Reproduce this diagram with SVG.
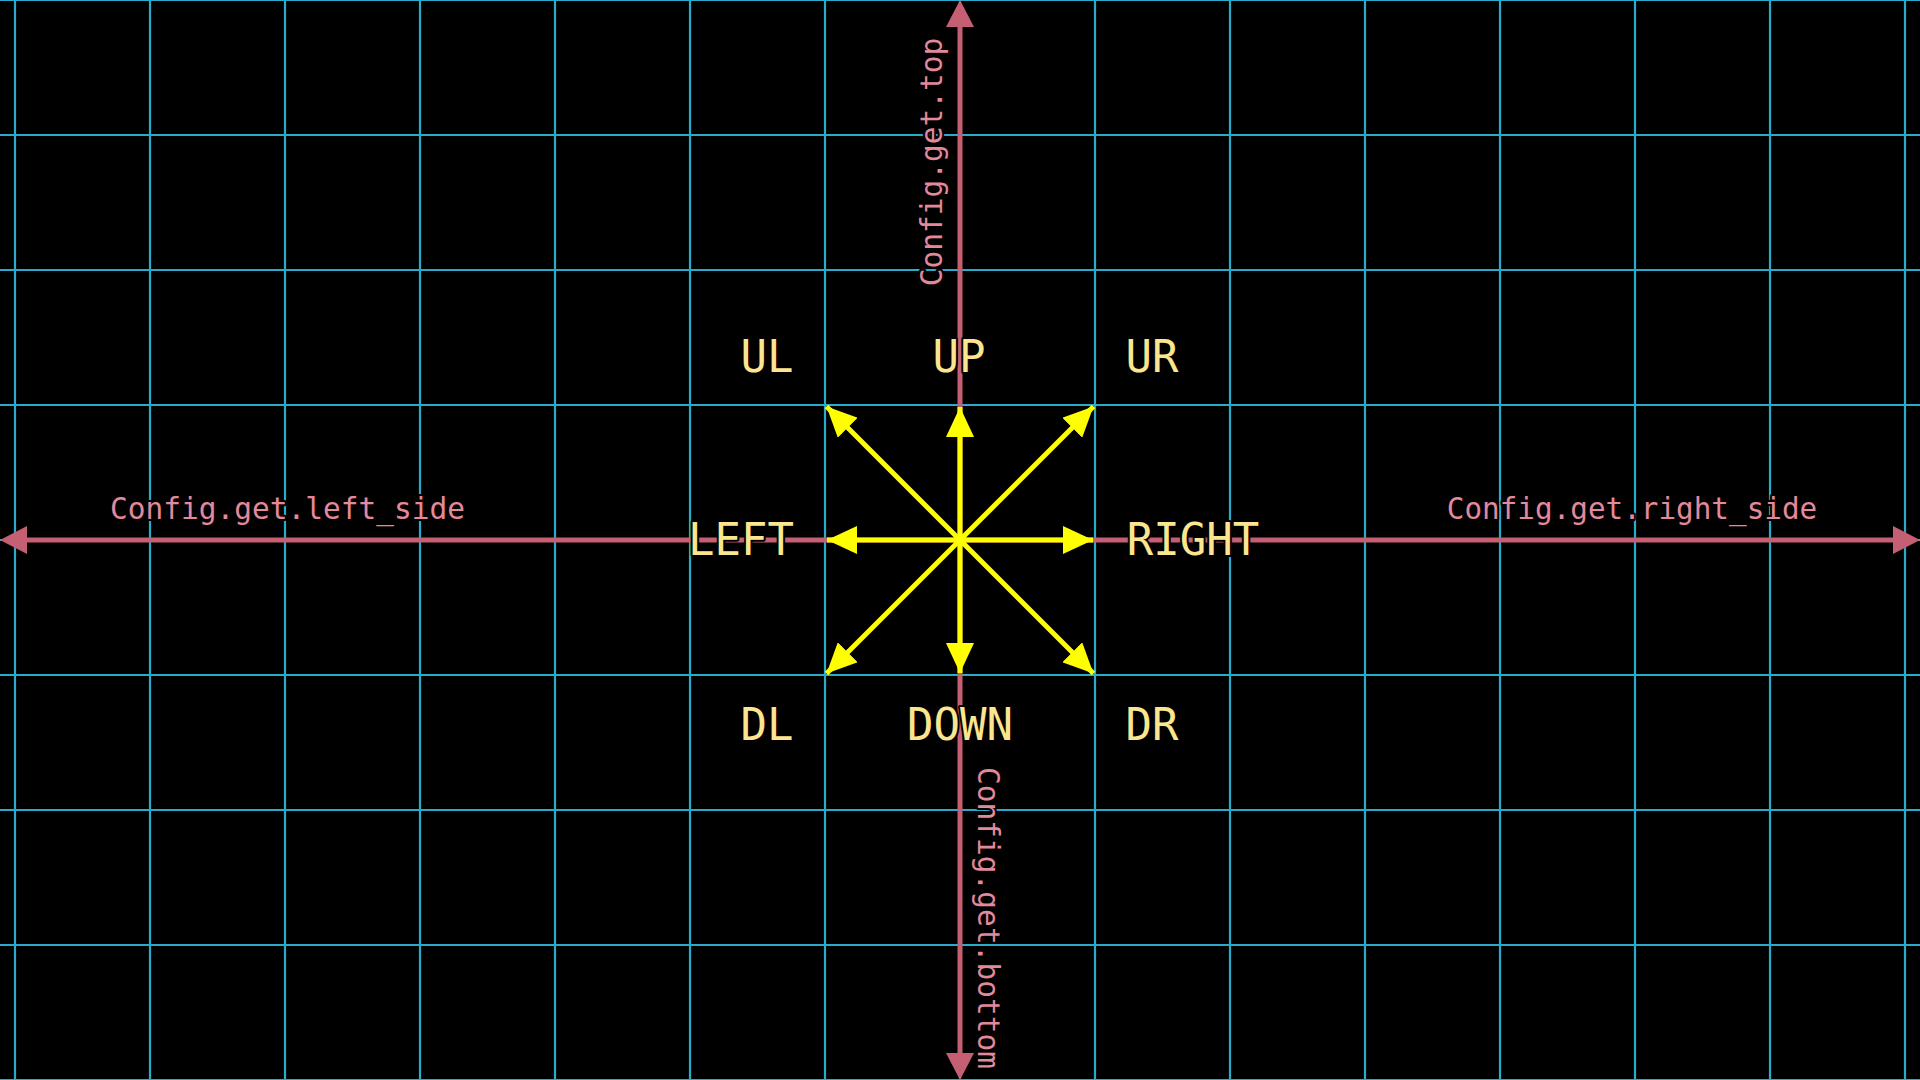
<svg xmlns="http://www.w3.org/2000/svg" width="1920" height="1080" viewBox="0 0 1920 1080">
<defs>
<style>
.grid line{stroke:#29ABCA;stroke-width:2.2}
.axis{stroke:#C55F73;stroke-width:5;fill:none}
.axhead{fill:#C55F73}
.dir{stroke:#FFFF00;stroke-width:5;fill:none}
.dirhead{fill:#FFFF00}
.lbl{font-family:"DejaVu Sans Mono","Liberation Mono",monospace;fill:#E2899C;stroke:#000;stroke-width:4;paint-order:stroke;stroke-linejoin:round}
.dlbl{font-family:"DejaVu Sans Mono","Liberation Mono",monospace;font-size:44px;fill:#FBE68F;stroke:#000;stroke-width:4;paint-order:stroke;stroke-linejoin:round;text-anchor:middle}
</style>
<marker id="ah" viewBox="0 0 30 28" refX="30" refY="14" markerWidth="30" markerHeight="28" markerUnits="userSpaceOnUse" orient="auto">
<path d="M0,0 L30,14 L0,28 Z" class="dirhead"/>
</marker>
</defs>
<rect width="1920" height="1080" fill="#000"/>
<g id="grid" class="grid">
<line x1="15" y1="0" x2="15" y2="1080"/>
<line x1="150" y1="0" x2="150" y2="1080"/>
<line x1="285" y1="0" x2="285" y2="1080"/>
<line x1="420" y1="0" x2="420" y2="1080"/>
<line x1="555" y1="0" x2="555" y2="1080"/>
<line x1="690" y1="0" x2="690" y2="1080"/>
<line x1="825" y1="0" x2="825" y2="1080"/>
<line x1="960" y1="0" x2="960" y2="1080"/>
<line x1="1095" y1="0" x2="1095" y2="1080"/>
<line x1="1230" y1="0" x2="1230" y2="1080"/>
<line x1="1365" y1="0" x2="1365" y2="1080"/>
<line x1="1500" y1="0" x2="1500" y2="1080"/>
<line x1="1635" y1="0" x2="1635" y2="1080"/>
<line x1="1770" y1="0" x2="1770" y2="1080"/>
<line x1="1905" y1="0" x2="1905" y2="1080"/>
<line x1="0" y1="0" x2="1920" y2="0"/>
<line x1="0" y1="135" x2="1920" y2="135"/>
<line x1="0" y1="270" x2="1920" y2="270"/>
<line x1="0" y1="405" x2="1920" y2="405"/>
<line x1="0" y1="540" x2="1920" y2="540"/>
<line x1="0" y1="675" x2="1920" y2="675"/>
<line x1="0" y1="810" x2="1920" y2="810"/>
<line x1="0" y1="945" x2="1920" y2="945"/>
<line x1="0" y1="1080" x2="1920" y2="1080"/>
</g>
<g id="connectors">
<g id="axes">
<line class="axis" x1="26" y1="540" x2="1894" y2="540"/>
<line class="axis" x1="960" y1="26" x2="960" y2="1054"/>
<path class="axhead" d="M0,540 L27,526 L27,554 Z"/>
<path class="axhead" d="M1920,540 L1893,526 L1893,554 Z"/>
<path class="axhead" d="M960,0 L946,27 L974,27 Z"/>
<path class="axhead" d="M960,1080 L946,1053 L974,1053 Z"/>
</g>
<g id="directions">
<line class="dir" x1="960" y1="540" x2="960" y2="407" marker-end="url(#ah)"/>
<line class="dir" x1="960" y1="540" x2="960" y2="673" marker-end="url(#ah)"/>
<line class="dir" x1="960" y1="540" x2="827" y2="540" marker-end="url(#ah)"/>
<line class="dir" x1="960" y1="540" x2="1093" y2="540" marker-end="url(#ah)"/>
<line class="dir" x1="960" y1="540" x2="826.5" y2="406.5" marker-end="url(#ah)"/>
<line class="dir" x1="960" y1="540" x2="1093.5" y2="406.5" marker-end="url(#ah)"/>
<line class="dir" x1="960" y1="540" x2="826.5" y2="673.5" marker-end="url(#ah)"/>
<line class="dir" x1="960" y1="540" x2="1093.5" y2="673.5" marker-end="url(#ah)"/>
</g>
</g>
<g id="edge-labels">
<text id="lbl-left" class="lbl" x="287.5" y="519" font-size="29.5" text-anchor="middle">Config.get.left_side</text>
<text id="lbl-right" class="lbl" x="1632" y="519" font-size="29.3" text-anchor="middle">Config.get.right_side</text>
<text id="lbl-top" class="lbl" font-size="29.5" text-anchor="middle" transform="translate(942,162) rotate(-90)">Config.get.top</text>
<text id="lbl-bottom" class="lbl" font-size="29.5" text-anchor="middle" transform="translate(978,918) rotate(90)">Config.get.bottom</text>
</g>
<g id="dir-labels">
<text id="UL" class="dlbl" x="767" y="372">UL</text>
<text id="UP" class="dlbl" x="959" y="372">UP</text>
<text id="UR" class="dlbl" x="1152" y="372">UR</text>
<text id="LEFT" class="dlbl" x="741" y="555">LEFT</text>
<text id="RIGHT" class="dlbl" x="1193" y="555">RIGHT</text>
<text id="DL" class="dlbl" x="767" y="740">DL</text>
<text id="DOWN" class="dlbl" x="960" y="740">DOWN</text>
<text id="DR" class="dlbl" x="1152" y="740">DR</text>
</g>
</svg>
